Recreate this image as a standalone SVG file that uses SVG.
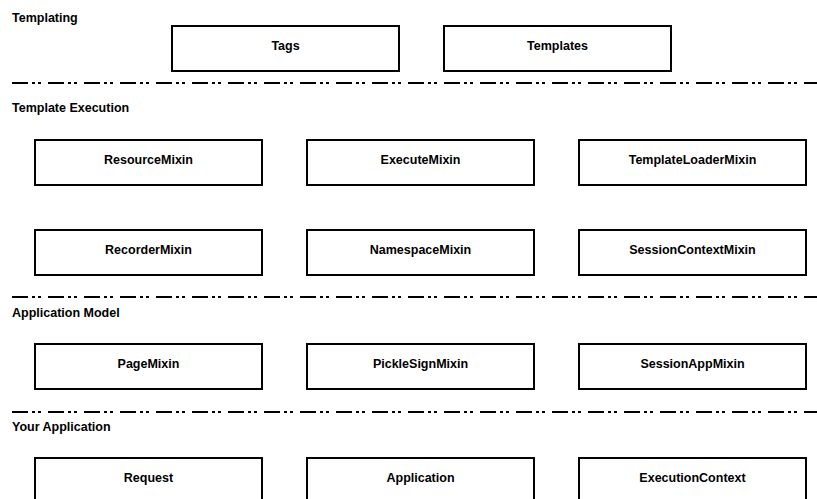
<svg xmlns="http://www.w3.org/2000/svg" width="817" height="499" viewBox="0 0 817 499">
<style>
.bg{fill:#fff}
.box{fill:#fff;stroke:#000;stroke-width:2}
.lbl{font-family:"Liberation Sans",Arial,sans-serif;font-weight:bold;font-size:12.5px;fill:#000;text-anchor:middle}
.sec{font-family:"Liberation Sans",Arial,sans-serif;font-weight:bold;font-size:12.5px;fill:#000}
.sep{stroke:#000;stroke-width:2;fill:none;stroke-dasharray:16 4 3 3 3 7}
</style>
<rect class="bg" x="0" y="0" width="817" height="499"/>
<g id="sections">
<text class="sec" x="12" y="22">Templating</text>
<text class="sec" x="12" y="112">Template Execution</text>
<text class="sec" x="12" y="317">Application Model</text>
<text class="sec" x="12" y="431">Your Application</text>
</g>
<g id="separators">
<line class="sep" x1="12" y1="83" x2="817" y2="83"/>
<line class="sep" x1="12" y1="297" x2="817" y2="297"/>
<line class="sep" x1="12" y1="412" x2="817" y2="412"/>
</g>
<g id="connectors"></g>
<g id="tags"><rect class="box" x="172" y="26" width="227" height="45"/><text class="lbl" x="285.5" y="50">Tags</text></g>
<g id="templates"><rect class="box" x="444" y="26" width="227" height="45"/><text class="lbl" x="557.5" y="50">Templates</text></g>
<g id="resourcemixin"><rect class="box" x="35" y="140" width="227" height="45"/><text class="lbl" x="148.5" y="164">ResourceMixin</text></g>
<g id="executemixin"><rect class="box" x="307" y="140" width="227" height="45"/><text class="lbl" x="420.5" y="164">ExecuteMixin</text></g>
<g id="templateloadermixin"><rect class="box" x="579" y="140" width="227" height="45"/><text class="lbl" x="692.5" y="164">TemplateLoaderMixin</text></g>
<g id="recordermixin"><rect class="box" x="35" y="230" width="227" height="45"/><text class="lbl" x="148.5" y="254">RecorderMixin</text></g>
<g id="namespacemixin"><rect class="box" x="307" y="230" width="227" height="45"/><text class="lbl" x="420.5" y="254">NamespaceMixin</text></g>
<g id="sessioncontextmixin"><rect class="box" x="579" y="230" width="227" height="45"/><text class="lbl" x="692.5" y="254">SessionContextMixin</text></g>
<g id="pagemixin"><rect class="box" x="35" y="344" width="227" height="45"/><text class="lbl" x="148.5" y="368">PageMixin</text></g>
<g id="picklesignmixin"><rect class="box" x="307" y="344" width="227" height="45"/><text class="lbl" x="420.5" y="368">PickleSignMixin</text></g>
<g id="sessionappmixin"><rect class="box" x="579" y="344" width="227" height="45"/><text class="lbl" x="692.5" y="368">SessionAppMixin</text></g>
<g id="request"><rect class="box" x="35" y="458" width="227" height="46"/><text class="lbl" x="148.5" y="482">Request</text></g>
<g id="application"><rect class="box" x="307" y="458" width="227" height="46"/><text class="lbl" x="420.5" y="482">Application</text></g>
<g id="executioncontext"><rect class="box" x="579" y="458" width="227" height="46"/><text class="lbl" x="692.5" y="482">ExecutionContext</text></g>
</svg>
